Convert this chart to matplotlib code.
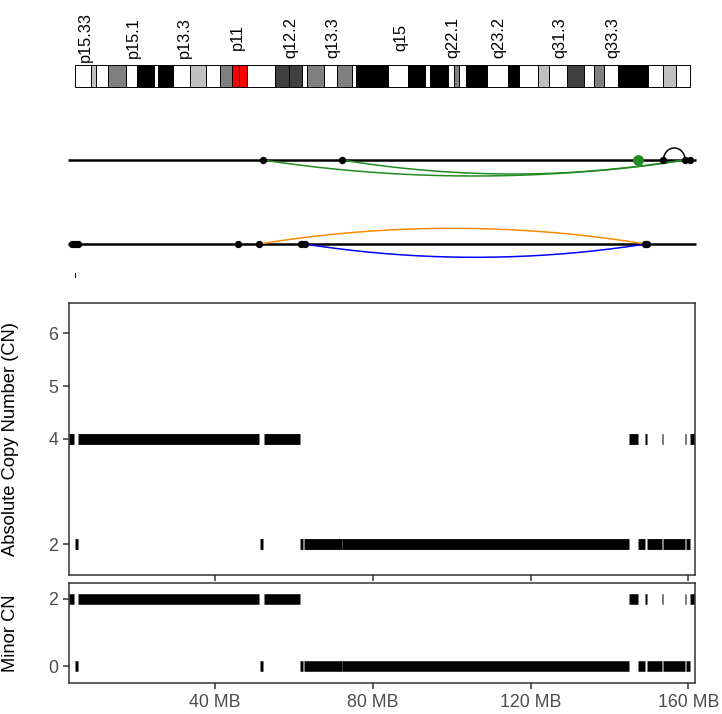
import numpy as np
import matplotlib
matplotlib.use("Agg")
import matplotlib.pyplot as plt
from matplotlib.patches import Rectangle

plt.rcParams['font.family'] = ['Liberation Sans', 'DejaVu Sans']

# ---------------- data ----------------
# ideogram band edges (MB) and stain colours
band_edges = [4.44, 8.49, 9.84, 12.96, 17.45, 20.31, 24.62, 25.48, 29.44, 33.67,
              37.65, 41.28, 44.24, 46.17, 48.2, 55.22, 58.85, 61.99, 63.41, 67.65,
              70.87, 74.75, 75.76, 83.95, 89.02, 93.26, 94.52, 99.01, 100.61, 101.95,
              103.65, 109.05, 114.22, 117.16, 121.98, 124.77, 129.18, 133.57, 136.18,
              138.64, 142.27, 149.87, 153.52, 156.82, 160.45]
band_stain = ['gneg', 'gpos25', 'gneg', 'gpos50', 'gneg', 'gpos100', 'gneg', 'gpos100',
              'gneg', 'gpos25', 'gneg', 'gpos50', 'acen', 'acen', 'gneg', 'gpos75',
              'gpos75', 'gneg', 'gpos50', 'gneg', 'gpos50', 'gneg', 'gpos100', 'gneg',
              'gpos100', 'gneg', 'gpos100', 'gneg', 'gpos50', 'gneg', 'gpos100', 'gneg',
              'gpos100', 'gneg', 'gpos25', 'gneg', 'gpos75', 'gneg', 'gpos50', 'gneg',
              'gpos100', 'gneg', 'gpos25', 'gneg']
band_labels = ['p15.33', 'p15.1', 'p13.3', 'p11', 'q12.2', 'q13.3', 'q15', 'q22.1',
               'q23.2', 'q31.3', 'q33.3']
band_label_mb = [7.07, 19.2, 32.15, 45.6, 59.3, 69.9, 87.2, 100.4, 112.0, 127.5, 140.9]

# structural-variant breakpoints (MB)
track1_points = [52.1, 72.2, 153.7, 159.2, 160.45]
track1_green_point = [147.2]
track2_points = [3.8, 4.5, 5.2, 45.8, 51.2, 61.9, 62.7, 148.9, 149.6]
sv_start = [52.1, 72.2, 153.7, 51.2, 62.7]
sv_end = [159.2, 159.2, 159.2, 149.2, 149.2]
sv_track = [1, 1, 1, 2, 2]
sv_type = ['DEL', 'DEL', 'DUP', 'h2hINV', 't2tINV']

# copy-number segments (MB)
seg_start = [2.9, 4.5, 5.25, 51.4, 52.3, 61.6, 62.45, 62.6, 72.22, 72.3, 145.0,
             147.35, 149.05, 149.6, 153.3, 153.7, 159.22, 159.4, 160.5]
seg_end = [4.26, 5.2, 51.24, 52.1, 61.5, 62.4, 62.55, 72.2, 72.28, 145.0, 147.35,
           149.0, 149.6, 153.3, 153.68, 159.2, 159.3, 160.45, 162.5]
seg_total_cn = [4, 2, 4, 2, 4, 2, 4, 2, 5, 2, 4, 2, 4, 2, 4, 2, 4, 2, 4]
seg_minor_cn = [2, 0, 2, 0, 2, 0, 2, 0, 2, 0, 2, 0, 2, 0, 2, 0, 2, 0, 2]

cn_ticks = [2, 4, 5, 6]
minor_ticks = [0, 2]
x_ticks = [40, 80, 120, 160]
x_tick_labels = ['40 MB', '80 MB', '120 MB', '160 MB']

# ---------------- styles ----------------
stain_colors = {'gneg': 'white', 'gpos25': '#c0c0c0', 'gpos50': '#808080',
                'gpos75': '#404040', 'gpos100': 'black', 'acen': 'red'}
sv_colors = {'DEL': '#228B22', 'DUP': 'black', 'h2hINV': '#FF8C00', 't2tINV': '#0000FF'}
sv_side = {'DEL': 1, 'DUP': -1, 'h2hINV': -1, 't2tINV': 1}
arc_height_px = [16, 14, 12, 15.7, 13.3]

W, H, DPI = 722, 714, 100
XLIM = (2.98, 161.7)
GRID = '#333333'


def rect(l, t, r, b):
    return [l / W, 1 - b / H, (r - l) / W, (b - t) / H]


fig = plt.figure(figsize=(W / DPI, H / DPI), dpi=DPI)

# ---------------- ideogram + SV track ----------------
axt = fig.add_axes(rect(69, 0, 695, 295))
axt.set_xlim(*XLIM)
axt.set_ylim(295, 0)
axt.axis('off')

for i, st in enumerate(band_stain):
    axt.add_patch(Rectangle((band_edges[i], 65), band_edges[i + 1] - band_edges[i], 22.3,
                            facecolor=stain_colors[st], edgecolor='black', linewidth=0.7,
                            clip_on=False))
for lab, pos in zip(band_labels, band_label_mb):
    axt.text(pos, 37.5, lab, rotation=90, ha='center', va='center', fontsize=11.8,
             color='black')

track_y = {1: 160, 2: 244}
for y in track_y.values():
    axt.plot([2.7, 162.0], [y, y], color='black', lw=1.8, clip_on=False,
             solid_capstyle='butt', zorder=2)

t = np.linspace(0, 1, 300)
for s, e, trk, tp, h in zip(sv_start, sv_end, sv_track, sv_type, arc_height_px):
    x = s + (e - s) * t
    if tp == 'DUP':
        shape = np.sqrt(np.clip(1 - (2 * t - 1) ** 2, 0, 1))
    else:
        shape = 4 * t * (1 - t)
    y = track_y[trk] + sv_side[tp] * h * shape
    axt.plot(x, y, color=sv_colors[tp], lw=1.1, clip_on=False, zorder=3)

axt.scatter(track1_points, [track_y[1]] * len(track1_points), s=28, color='black',
            zorder=4, clip_on=False, linewidths=0)
axt.scatter(track1_green_point, [track_y[1]] * len(track1_green_point), s=62,
            color='#228B22', zorder=4, clip_on=False, linewidths=0)
axt.scatter(track2_points, [track_y[2]] * len(track2_points), s=28, color='black',
            zorder=4, clip_on=False, linewidths=0)
axt.plot([4.5, 4.5], [273, 277], color='black', lw=0.8, clip_on=False)


def style_axes(ax):
    for sp in ax.spines.values():
        sp.set_color(GRID)
        sp.set_linewidth(1.1)
    ax.tick_params(length=4.3, width=1.1, color=GRID, labelcolor='#4d4d4d',
                   labelsize=12.8, pad=3.5)
    ax.set_xlim(*XLIM)
    ax.set_xticks(x_ticks)


# ---------------- total CN ----------------
ax1 = fig.add_axes(rect(69, 302.7, 695, 575))
for s, e, c in zip(seg_start, seg_end, seg_total_cn):
    ax1.plot([s, e], [c, c], color='black', lw=7.8, solid_capstyle='butt')
style_axes(ax1)
ax1.set_ylim(1.42, 6.58)
ax1.set_yticks(cn_ticks)
ax1.set_xticklabels([])

# ---------------- minor CN ----------------
ax2 = fig.add_axes(rect(69, 582.7, 695, 682.7))
for s, e, c in zip(seg_start, seg_end, seg_minor_cn):
    ax2.plot([s, e], [c, c], color='black', lw=7.6, solid_capstyle='butt')
style_axes(ax2)
ax2.set_ylim(-0.48, 2.48)
ax2.set_yticks(minor_ticks)
ax2.set_xticklabels(x_tick_labels)

fig.text(10.5 / W, 1 - 438.5 / H, 'Absolute Copy Number (CN)', rotation=90, ha='center',
         va='center', fontsize=13.2, color='black')
fig.text(10.5 / W, 1 - 633 / H, 'Minor CN', rotation=90, ha='center', va='center',
         fontsize=13.2, color='black')

fig.savefig('out.png', dpi=DPI)
